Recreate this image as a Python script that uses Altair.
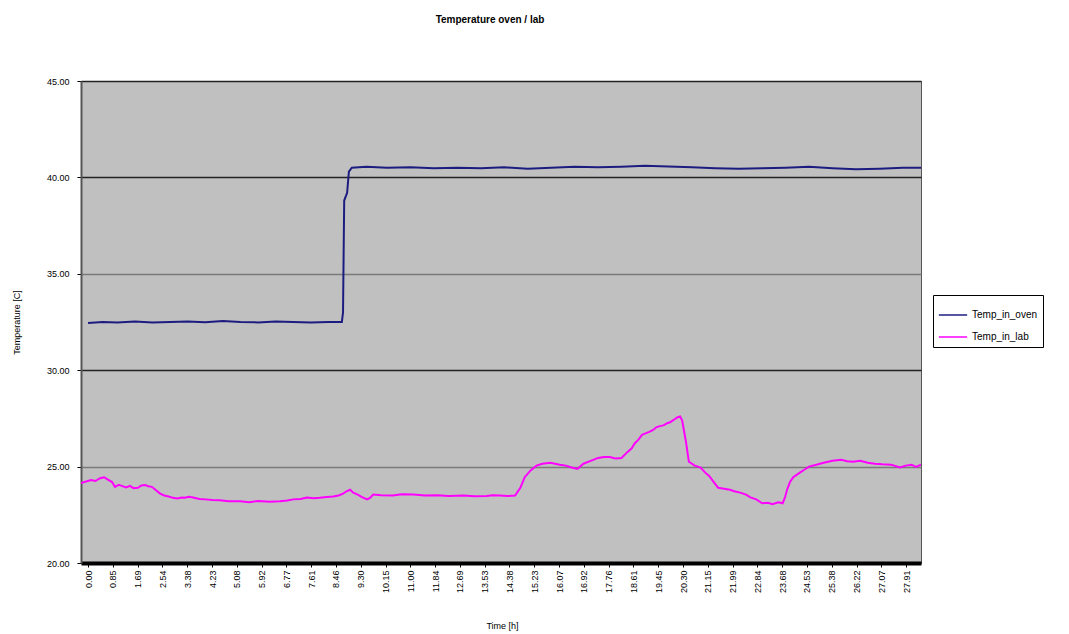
import altair as alt
import pandas as pd

# Temperature in oven (navy)
oven_t = [0.0, 0.5, 1.0, 1.6, 2.2, 2.8, 3.4, 4.0, 4.6, 5.2, 5.8, 6.4, 7.0, 7.6, 8.2, 8.66,
          8.70, 8.74, 8.84, 8.90, 9.0, 9.5, 10.2, 11.0, 11.8, 12.6, 13.4, 14.2, 15.0, 15.8,
          16.6, 17.4, 18.2, 19.0, 19.8, 20.6, 21.4, 22.2, 23.0, 23.8, 24.6, 25.4, 26.2,
          27.0, 27.8, 28.42]
oven_v = [32.45, 32.5, 32.47, 32.52, 32.48, 32.5, 32.53, 32.49, 32.55, 32.5, 32.48, 32.52, 32.5, 32.47, 32.5, 32.5,
          33.0, 38.8, 39.2, 40.3, 40.5, 40.55, 40.5, 40.52, 40.47, 40.5, 40.48, 40.52, 40.45, 40.5,
          40.55, 40.52, 40.55, 40.6, 40.57, 40.52, 40.48, 40.45, 40.47, 40.5, 40.55, 40.48, 40.42,
          40.45, 40.5, 40.5]

# Temperature in lab (magenta)
lab_t = [-0.24, 0.1, 0.25, 0.41, 0.55, 0.65, 0.82, 0.92, 1.05, 1.15, 1.3, 1.43, 1.55, 1.7, 1.82,
         1.95, 2.05, 2.18, 2.3, 2.46, 2.6, 2.75, 2.9, 3.04, 3.2, 3.3, 3.45, 3.58, 3.8, 4.0, 4.25,
         4.5, 4.8, 5.19, 5.5, 5.8, 6.2, 6.55, 6.8, 7.0, 7.25, 7.47, 7.7, 7.9, 8.15, 8.36, 8.55,
         8.7, 8.82, 8.94, 9.05, 9.2, 9.35, 9.52, 9.62, 9.73, 10.0, 10.4, 10.7, 11.1, 11.5, 11.9,
         12.3, 12.8, 13.2, 13.6, 13.8, 14.06, 14.3, 14.57, 14.75, 14.9, 15.1, 15.3, 15.5, 15.77,
         16.1, 16.3, 16.5, 16.7, 16.9, 17.15, 17.4, 17.6, 17.8, 18.0, 18.2, 18.4, 18.55, 18.65,
         18.78, 18.9, 19.02, 19.15, 19.28, 19.4, 19.52, 19.65, 19.76, 19.86, 19.98, 20.1, 20.2,
         20.27, 20.4, 20.5, 20.7, 20.9, 21.05, 21.2, 21.35, 21.5, 21.7, 21.9, 22.05, 22.25, 22.45,
         22.6, 22.8, 23.0, 23.2, 23.35, 23.55, 23.7, 23.78, 23.85, 23.95, 24.06, 24.2, 24.3,
         24.45, 24.6, 24.85, 25.1, 25.4, 25.7, 25.9, 26.1, 26.35, 26.6, 26.85, 27.1, 27.4,
         27.7, 27.9, 28.1, 28.25, 28.42]
lab_v = [24.15, 24.3, 24.25, 24.4, 24.45, 24.35, 24.2, 23.95, 24.05, 24.0, 23.92, 24.0, 23.88,
         23.9, 24.02, 24.05, 23.98, 23.95, 23.8, 23.6, 23.5, 23.45, 23.38, 23.35, 23.4, 23.38,
         23.44, 23.4, 23.32, 23.3, 23.27, 23.25, 23.2, 23.2, 23.15, 23.22, 23.18, 23.2, 23.24,
         23.3, 23.32, 23.4, 23.36, 23.38, 23.42, 23.45, 23.5, 23.6, 23.72, 23.8, 23.65, 23.55,
         23.42, 23.3, 23.38, 23.55, 23.52, 23.5, 23.56, 23.55, 23.5, 23.52, 23.48, 23.5, 23.46,
         23.48, 23.52, 23.5, 23.47, 23.5, 23.9, 24.45, 24.8, 25.05, 25.15, 25.2, 25.1, 25.05,
         24.95, 24.88, 25.15, 25.3, 25.45, 25.5, 25.5, 25.42, 25.45, 25.75, 25.95, 26.2, 26.4,
         26.65, 26.72, 26.8, 26.9, 27.05, 27.1, 27.15, 27.25, 27.3, 27.42, 27.55, 27.6, 27.4,
         26.3, 25.25, 25.05, 24.95, 24.7, 24.5, 24.2, 23.9, 23.85, 23.8, 23.72, 23.65, 23.55,
         23.4, 23.3, 23.1, 23.12, 23.05, 23.15, 23.1, 23.4, 23.8, 24.2, 24.45, 24.6, 24.7, 24.85,
         25.0, 25.1, 25.2, 25.3, 25.35, 25.28, 25.25, 25.3, 25.2, 25.15, 25.12, 25.1, 24.95,
         25.05, 25.1, 24.98, 25.1]

x_ticks = [0.00, 0.85, 1.69, 2.54, 3.38, 4.23, 5.08, 5.92, 6.77, 7.61, 8.46, 9.30, 10.15, 11.00,
           11.84, 12.69, 13.53, 14.38, 15.23, 16.07, 16.92, 17.76, 18.61, 19.45, 20.30, 21.15,
           21.99, 22.84, 23.68, 24.53, 25.38, 26.22, 27.07, 27.91]
y_ticks = [20, 25, 30, 35, 40, 45]

series = ["Temp_in_oven", "Temp_in_lab"]
colors = ["#1c1c80", "#ff00ff"]

df = pd.concat([
    pd.DataFrame({"time": oven_t, "temp": oven_v, "series": series[0], "order": range(len(oven_t))}),
    pd.DataFrame({"time": lab_t, "temp": lab_v, "series": series[1], "order": range(len(lab_t))}),
])

FONT = "Liberation Sans"

chart = alt.Chart(df).mark_line(strokeWidth=2, clip=True).encode(
    x=alt.X("time:Q",
            scale=alt.Scale(domain=[-0.24, 28.42], nice=False, zero=False),
            axis=alt.Axis(values=x_ticks, format=".2f", labelAngle=-90, labelAlign="right",
                          labelBaseline="middle", labelFontSize=9, labelPadding=3,
                          labelColor="#000", labelFont=FONT, grid=False,
                          domainColor="#000", domainWidth=4, tickColor="#000", tickSize=4,
                          labelOverlap=False, title="Time [h]", titleFont=FONT,
                          titleFontSize=9, titleFontWeight="normal", titleX=421, titleY=62,
                          titleBaseline="middle", titleColor="#000")),
    y=alt.Y("temp:Q",
            scale=alt.Scale(domain=[20, 45], nice=False, zero=False),
            axis=alt.Axis(values=y_ticks, format=".2f", labelFontSize=9, labelFont=FONT,
                          labelColor="#000", labelPadding=8, tickColor="#000", tickSize=4,
                          domainColor="#555", domainWidth=2,
                          grid=True,
                          gridColor={"condition": {"test": "datum.value == 35 || datum.value == 25",
                                                   "value": "#7a7a7a"},
                                     "value": "#222"},
                          gridWidth=1.5,
                          title="Temperature [C]", titleFont=FONT, titleFontSize=9,
                          titleFontWeight="normal", titleX=-60, titleY=241, titleColor="#000")),
    color=alt.Color("series:N",
                    scale=alt.Scale(domain=series, range=colors),
                    legend=alt.Legend(title=None, orient="none", legendX=852, legendY=214,
                                      symbolType="stroke", symbolSize=800, symbolStrokeWidth=1.5,
                                      labelFontSize=10, labelFont=FONT, labelColor="#000",
                                      strokeColor="#000", fillColor="#fff", padding=5,
                                      rowPadding=2)),
    order="order:Q",
).properties(
    width=840, height=482,
    title=alt.TitleParams("Temperature oven / lab", font=FONT, fontSize=10, fontWeight="bold",
                          anchor="middle", offset=52, dx=-11, color="#000"),
    autosize=alt.AutoSizeParams(type="none"),
    padding={"left": 73, "top": 73, "right": 140, "bottom": 70},
).configure_view(
    fill="#c0c0c0", stroke="#555", strokeWidth=1
)

chart.save("out.html", embed_options={"renderer": "svg", "actions": False})
